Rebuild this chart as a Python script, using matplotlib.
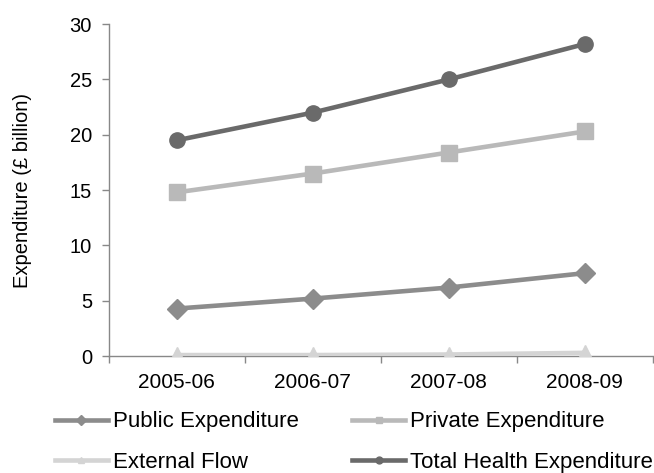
import matplotlib
matplotlib.use("Agg")
import matplotlib.pyplot as plt
from matplotlib.ticker import FixedLocator, NullFormatter

categories = ["2005-06", "2006-07", "2007-08", "2008-09"]
public = [4.3, 5.2, 6.2, 7.5]
private = [14.8, 16.5, 18.4, 20.3]
external = [0.1, 0.1, 0.15, 0.3]
total = [19.5, 22.0, 25.0, 28.2]

plt.rcParams['font.family'] = ['Liberation Sans', 'DejaVu Sans']

fig = plt.figure(figsize=(6.54, 4.73), dpi=100)
ax = fig.add_axes([0.166, 0.247, 0.832, 0.702])

x = list(range(len(categories)))
lw = 3.3
h_pub, = ax.plot(x, public, color="#8c8c8c", lw=lw, marker="D", ms=10.5, label="Public Expenditure", zorder=3)
h_pri, = ax.plot(x, private, color="#b9b9b9", lw=lw, marker="s", ms=11, label="Private Expenditure", zorder=3)
h_ext, = ax.plot(x, external, color="#d4d4d4", lw=lw, marker="^", ms=11, label="External Flow", zorder=3)
h_tot, = ax.plot(x, total, color="#6a6a6a", lw=lw, marker="o", ms=11, label="Total Health Expenditure", zorder=3)

ax.set_xlim(-0.5, 3.5)
ax.set_ylim(0, 30)
ax.set_yticks([0, 5, 10, 15, 20, 25, 30])
ax.set_xticks(x)
ax.set_xticklabels(categories)
ax.xaxis.set_minor_locator(FixedLocator([-0.5, 0.5, 1.5, 2.5, 3.5]))
ax.xaxis.set_minor_formatter(NullFormatter())
ax.tick_params(axis='x', which='major', length=0, pad=12, labelsize=15)
ax.tick_params(axis='x', which='minor', length=5, color="#888888", width=1)
ax.tick_params(axis='y', length=5, color="#888888", width=1, labelsize=14.5, pad=7)
for s in ["top", "right"]:
    ax.spines[s].set_visible(False)
for s in ["left", "bottom"]:
    ax.spines[s].set_color("#888888")
    ax.spines[s].set_linewidth(1)
ax.set_ylabel("Expenditure (£ billion)", fontsize=14.5, labelpad=27)

fig.legend(handles=[h_pub, h_ext, h_pri, h_tot], ncol=2, loc="lower left",
           bbox_to_anchor=(0.053, -0.042), frameon=False, fontsize=16,
           handlelength=2.4, handletextpad=0.22, columnspacing=2.4,
           labelspacing=0.88, markerscale=0.45)

fig.savefig("out.png", dpi=100)
